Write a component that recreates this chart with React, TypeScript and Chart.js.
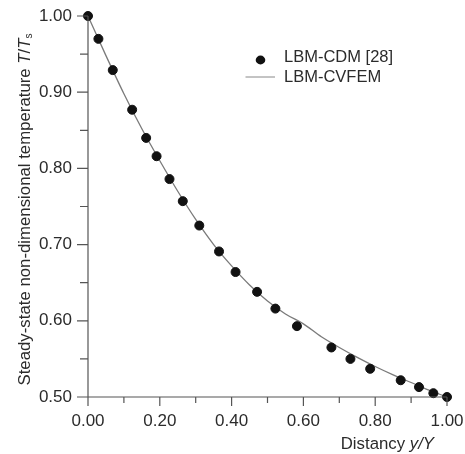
import React, { useEffect, useRef } from "react";
import { Chart, registerables } from "chart.js";

Chart.register(...registerables);

// LBM-CDM [28] markers
const cdmX = [0.0, 0.029, 0.069, 0.123, 0.162, 0.191, 0.227, 0.264, 0.31, 0.365, 0.411, 0.471, 0.522, 0.582, 0.678, 0.731, 0.786, 0.871, 0.922, 0.962, 1.0];
const cdmY = [1.0, 0.97, 0.929, 0.877, 0.84, 0.816, 0.786, 0.757, 0.725, 0.691, 0.664, 0.638, 0.616, 0.593, 0.565, 0.55, 0.537, 0.522, 0.513, 0.505, 0.5];

// LBM-CVFEM curve
const cvX = [0.0, 0.05, 0.1, 0.15, 0.2, 0.25, 0.3, 0.35, 0.4, 0.45, 0.5, 0.55, 0.6, 0.65, 0.7, 0.75, 0.8, 0.85, 0.9, 0.95, 1.0];
const cvY = [1.0, 0.948, 0.898, 0.852, 0.81, 0.77, 0.733, 0.7, 0.672, 0.647, 0.626, 0.609, 0.596, 0.579, 0.565, 0.552, 0.54, 0.529, 0.519, 0.509, 0.5];

const yMajor = [0.5, 0.6, 0.7, 0.8, 0.9, 1.0];
const yMinor = [0.55, 0.65, 0.75, 0.85, 0.95];
const xMajor = [0.0, 0.2, 0.4, 0.6, 0.8, 1.0];
const xMinor = [0.1, 0.3, 0.5, 0.7, 0.9];

const FONT = "'Liberation Sans', Arial, sans-serif";
const TXT = "#2b2b2b";
const AXIS = "#555555";

type Piece = { t: string; italic?: boolean; sub?: boolean };

function drawRich(ctx: CanvasRenderingContext2D, pieces: Piece[], x: number, y: number, size: number, align: "left" | "center" | "right") {
  const fontFor = (p: Piece) => `${p.italic ? "italic " : ""}${p.sub ? Math.round(size * 0.62) : size}px ${FONT}`;
  let total = 0;
  const widths = pieces.map((p) => {
    ctx.font = fontFor(p);
    const w = ctx.measureText(p.t).width;
    total += w;
    return w;
  });
  let cx = align === "left" ? x : align === "center" ? x - total / 2 : x - total;
  ctx.textBaseline = "middle";
  ctx.textAlign = "left";
  pieces.forEach((p, i) => {
    ctx.font = fontFor(p);
    ctx.fillText(p.t, cx, p.sub ? y + size * 0.28 : y);
    cx += widths[i];
  });
}

const decorPlugin = {
  id: "decor",
  afterDraw(chart: any) {
    const ctx: CanvasRenderingContext2D = chart.ctx;
    const xs = chart.scales.x;
    const ys = chart.scales.y;
    const left = xs.getPixelForValue(0);
    const right = xs.getPixelForValue(1);
    const top = ys.getPixelForValue(1);
    const bottom = ys.getPixelForValue(0.5);
    ctx.save();
    ctx.strokeStyle = AXIS;
    ctx.lineWidth = 1.2;
    ctx.beginPath();
    ctx.moveTo(left, top);
    ctx.lineTo(left, bottom);
    ctx.moveTo(left - 11, bottom);
    ctx.lineTo(right, bottom);
    yMajor.forEach((v) => {
      const p = ys.getPixelForValue(v);
      ctx.moveTo(left - 11, p);
      ctx.lineTo(left, p);
    });
    yMinor.forEach((v) => {
      const p = ys.getPixelForValue(v);
      ctx.moveTo(left - 8, p);
      ctx.lineTo(left, p);
    });
    xMajor.forEach((v) => {
      const p = xs.getPixelForValue(v);
      ctx.moveTo(p, bottom);
      ctx.lineTo(p, bottom + 9);
    });
    xMinor.forEach((v) => {
      const p = xs.getPixelForValue(v);
      ctx.moveTo(p, bottom);
      ctx.lineTo(p, bottom + 6);
    });
    ctx.stroke();

    ctx.fillStyle = TXT;
    // x title
    drawRich(ctx, [{ t: "Distancy " }, { t: "y/Y", italic: true }], 434, 444.5, 16.8, "right");
    // y title
    ctx.save();
    ctx.translate(25, (top + bottom) / 2 + 3);
    ctx.rotate(-Math.PI / 2);
    drawRich(
      ctx,
      [
        { t: "Steady-state non-dimensional temperature " },
        { t: "T", italic: true },
        { t: "/" },
        { t: "T", italic: true },
        { t: "s", sub: true },
      ],
      0,
      0,
      16.8,
      "center"
    );
    ctx.restore();

    // legend
    ctx.fillStyle = "#111";
    ctx.beginPath();
    ctx.ellipse(260.5, 60, 4.8, 4.4, 0, 0, Math.PI * 2);
    ctx.fill();
    ctx.strokeStyle = "#888";
    ctx.lineWidth = 1;
    ctx.beginPath();
    ctx.moveTo(245.5, 77);
    ctx.lineTo(275, 77);
    ctx.stroke();
    ctx.fillStyle = TXT;
    drawRich(ctx, [{ t: "LBM-CDM [28]" }], 284, 57, 16.5, "left");
    drawRich(ctx, [{ t: "LBM-CVFEM" }], 284, 77, 16.5, "left");
    ctx.restore();
  },
};

export default function App() {
  const ref = useRef<HTMLCanvasElement>(null);
  useEffect(() => {
    if (!ref.current) return;
    const chart = new Chart(ref.current, {
      type: "scatter",
      data: {
        datasets: [
          {
            label: "LBM-CDM [28]",
            data: cdmX.map((x, i) => ({ x, y: cdmY[i] })),
            backgroundColor: "#111",
            borderColor: "#111",
            pointRadius: 4.5,
            pointHoverRadius: 4.5,
            showLine: false,
            clip: false,
          },
          {
            label: "LBM-CVFEM",
            data: cvX.map((x, i) => ({ x, y: cvY[i] })),
            borderColor: "#7a7a7a",
            borderWidth: 1.3,
            pointRadius: 0,
            showLine: true,
            cubicInterpolationMode: "monotone",
            clip: false,
          },
        ],
      },
      options: {
        animation: false,
        responsive: false,
        devicePixelRatio: 1,
        layout: { padding: { left: 0, top: 16, right: 18, bottom: 0 } },
        plugins: { legend: { display: false }, tooltip: { enabled: false } },
        scales: {
          x: {
            type: "linear",
            min: 0,
            max: 1,
            grid: { display: false, drawTicks: false },
            border: { display: false },
            ticks: {
              stepSize: 0.2,
              padding: 14,
              color: TXT,
              font: { family: FONT, size: 17 },
              maxRotation: 0,
              callback: (v: any) => Number(v).toFixed(2),
            },
            afterFit: (s: any) => {
              s.height = 57;
              s.paddingLeft = 0;
              s.paddingRight = 0;
            },
          },
          y: {
            type: "linear",
            min: 0.5,
            max: 1.0,
            grid: { display: false, drawTicks: false },
            border: { display: false },
            ticks: {
              stepSize: 0.1,
              padding: 16,
              color: TXT,
              font: { family: FONT, size: 17 },
              callback: (v: any) => Number(v).toFixed(2),
            },
            afterFit: (s: any) => {
              s.width = 88;
              s.paddingTop = 0;
              s.paddingBottom = 0;
            },
          },
        },
      },
      plugins: [decorPlugin],
    });
    return () => chart.destroy();
  }, []);
  return (
    <div style={{ position: "absolute", left: 0, top: 0, width: 465, height: 454, background: "#fff" }}>
      <canvas ref={ref} width={465} height={454} style={{ display: "block" }} />
    </div>
  );
}
